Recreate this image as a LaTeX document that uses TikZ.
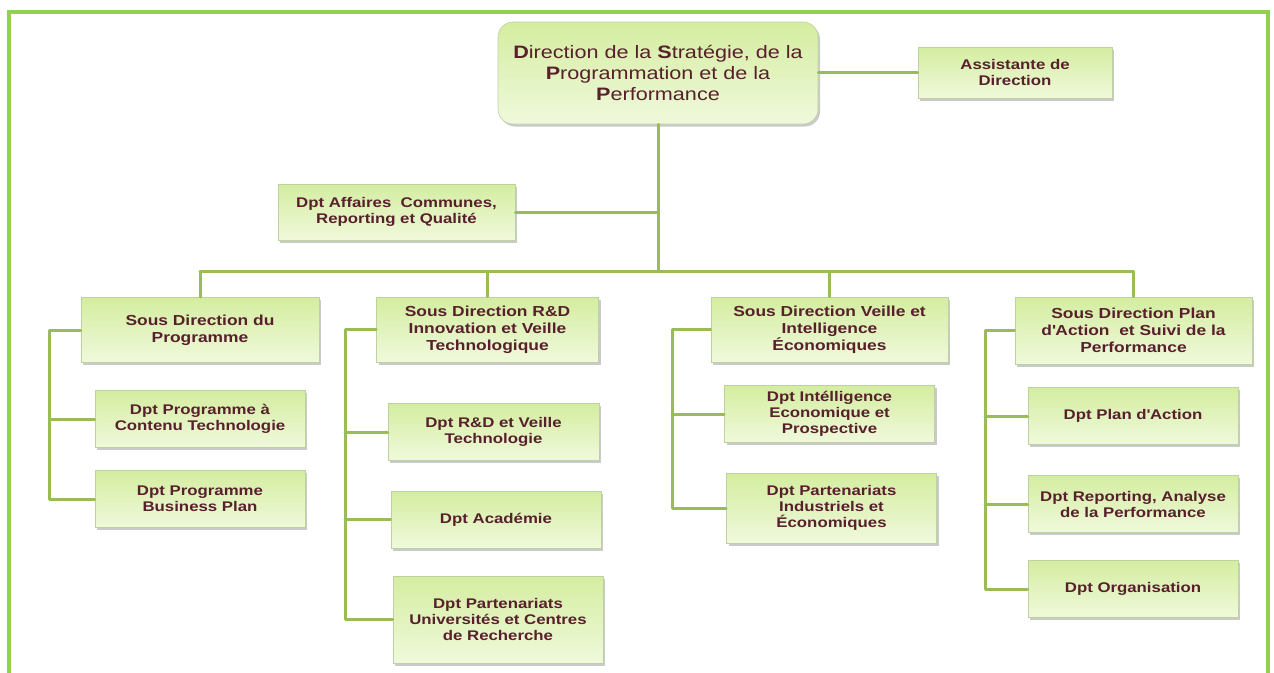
\documentclass[tikz,border=0pt]{standalone}
\usepackage{fontspec}
\setmainfont{Liberation Sans}[FakeStretch=1.2]
\usetikzlibrary{shadows}
\definecolor{framegreen}{RGB}{146,208,80}
\definecolor{linkgreen}{RGB}{155,187,89}
\definecolor{boxtop}{RGB}{212,237,160}
\definecolor{boxbot}{RGB}{240,249,220}
\definecolor{boxedge}{RGB}{190,210,160}
\definecolor{txt}{RGB}{88,32,45}
\tikzset{
  box/.style={draw=boxedge, line width=0.6pt, top color=boxtop, bottom color=boxbot,
    drop shadow={shadow xshift=2pt, shadow yshift=-2.5pt, opacity=0.35, fill=black!60},
    align=center, text=txt, font=\bfseries\fontsize{14}{16}\selectfont, inner sep=2pt},
  subdir/.style={box, minimum width=238pt, minimum height=65pt, text width=232pt,
    font=\bfseries\fontsize{14.5}{17}\selectfont},
  dept/.style={box, minimum width=210pt, minimum height=57pt, text width=206pt},
  conn/.style={draw=linkgreen, line width=3pt, line join=round, line cap=round},
}
\begin{document}
\begin{tikzpicture}[x=1pt, y=-1pt]
\useasboundingbox (0,0) rectangle (1274,672);
% outer frame
\draw[framegreen, line width=4pt] (9,700) -- (9,12) -- (1268,12) -- (1268,700);

% head of the directorate
\node[box, rounded corners=15pt, minimum width=320pt, minimum height=102pt, text width=316pt,
  font=\fontsize{18}{21}\selectfont] (top) at (658,73)
  {\textbf{D}irection de la \textbf{S}tratégie, de la\\ \textbf{P}rogrammation et de la\\ \textbf{P}erformance};
\node[box, minimum width=194pt, minimum height=51pt, text width=190pt] (assist) at (1015,72.5)
  {Assistante de\\ Direction};
\node[box, minimum width=237pt, minimum height=56pt, text width=232pt] (aff) at (396.5,212)
  {Dpt Affaires\ \ Communes,\\ Reporting et Qualité};

% sub-directorates
\node[subdir] (sd1) at (200,330) {Sous Direction du\\ Programme};
\node[subdir, minimum width=221pt, text width=218pt] (sd2) at (487.5,329.5) {Sous Direction R\&D\\ Innovation et Veille\\ Technologique};
\node[subdir, minimum width=237pt] (sd3) at (829.5,329.5) {Sous Direction Veille\ et\\ Intelligence\\ Économiques};
\node[subdir, minimum width=237pt, minimum height=67pt] (sd4) at (1133.5,330.5) {Sous Direction Plan\\ d\textquotesingle Action\ \ et Suivi de la\\ Performance};

% departments
\node[dept] (d11) at (200,419) {Dpt Programme à\\ Contenu Technologie};
\node[dept] (d12) at (200,499) {Dpt Programme\\ Business Plan};
\node[dept, minimum width=211pt] (d21) at (493.5,432) {Dpt R\&D et Veille\\ Technologie};
\node[dept] (d22) at (496,519.5) {Dpt Académie};
\node[dept, minimum height=87pt] (d23) at (498,619.5) {Dpt Partenariats\\ Universités et Centres\\ de Recherche};
\node[dept, minimum width=209pt] (d31) at (829.5,414) {Dpt Intélligence\\ Economique et\\ Prospective};
\node[dept, minimum width=209pt, minimum height=70pt] (d32) at (831.5,508) {Dpt Partenariats\\ Industriels et\\ Économiques};
\node[dept] (d41) at (1133,416) {Dpt Plan d\textquotesingle Action};
\node[dept] (d42) at (1133,504) {Dpt Reporting, Analyse\\ de la Performance};
\node[dept] (d43) at (1133,589) {Dpt Organisation};

% top-level connectors
\draw[conn] (top.south) -- ++(0,147) coordinate (bus);
\draw[conn] (top.east |- assist.west) -- (assist.west);
\draw[conn] (aff.east) -- (aff.east -| top.south);
\draw[conn] (sd1.north |- bus) -- (sd4.north |- bus);
\foreach \s in {sd1,sd2,sd3,sd4}
  \draw[conn] (\s.north |- bus) -- (\s.north);

% column spines
\draw[conn] (sd1.west) -- ++(-31,0) coordinate (s1) |- (d12.west);
\draw[conn] (s1 |- d11.west) -- (d11.west);
\draw[conn] (sd2.west) -- (345,329.5) coordinate (s2) |- (d23.west);
\draw[conn] (s2 |- d21.west) -- (d21.west);
\draw[conn] (s2 |- d22.west) -- (d22.west);
\draw[conn] (sd3.west) -- (672,329.5) coordinate (s3) |- (d32.west);
\draw[conn] (s3 |- d31.west) -- (d31.west);
\draw[conn] (sd4.west) -- (985,330.5) coordinate (s4) |- (d43.west);
\draw[conn] (s4 |- d41.west) -- (d41.west);
\draw[conn] (s4 |- d42.west) -- (d42.west);
\end{tikzpicture}
\end{document}
